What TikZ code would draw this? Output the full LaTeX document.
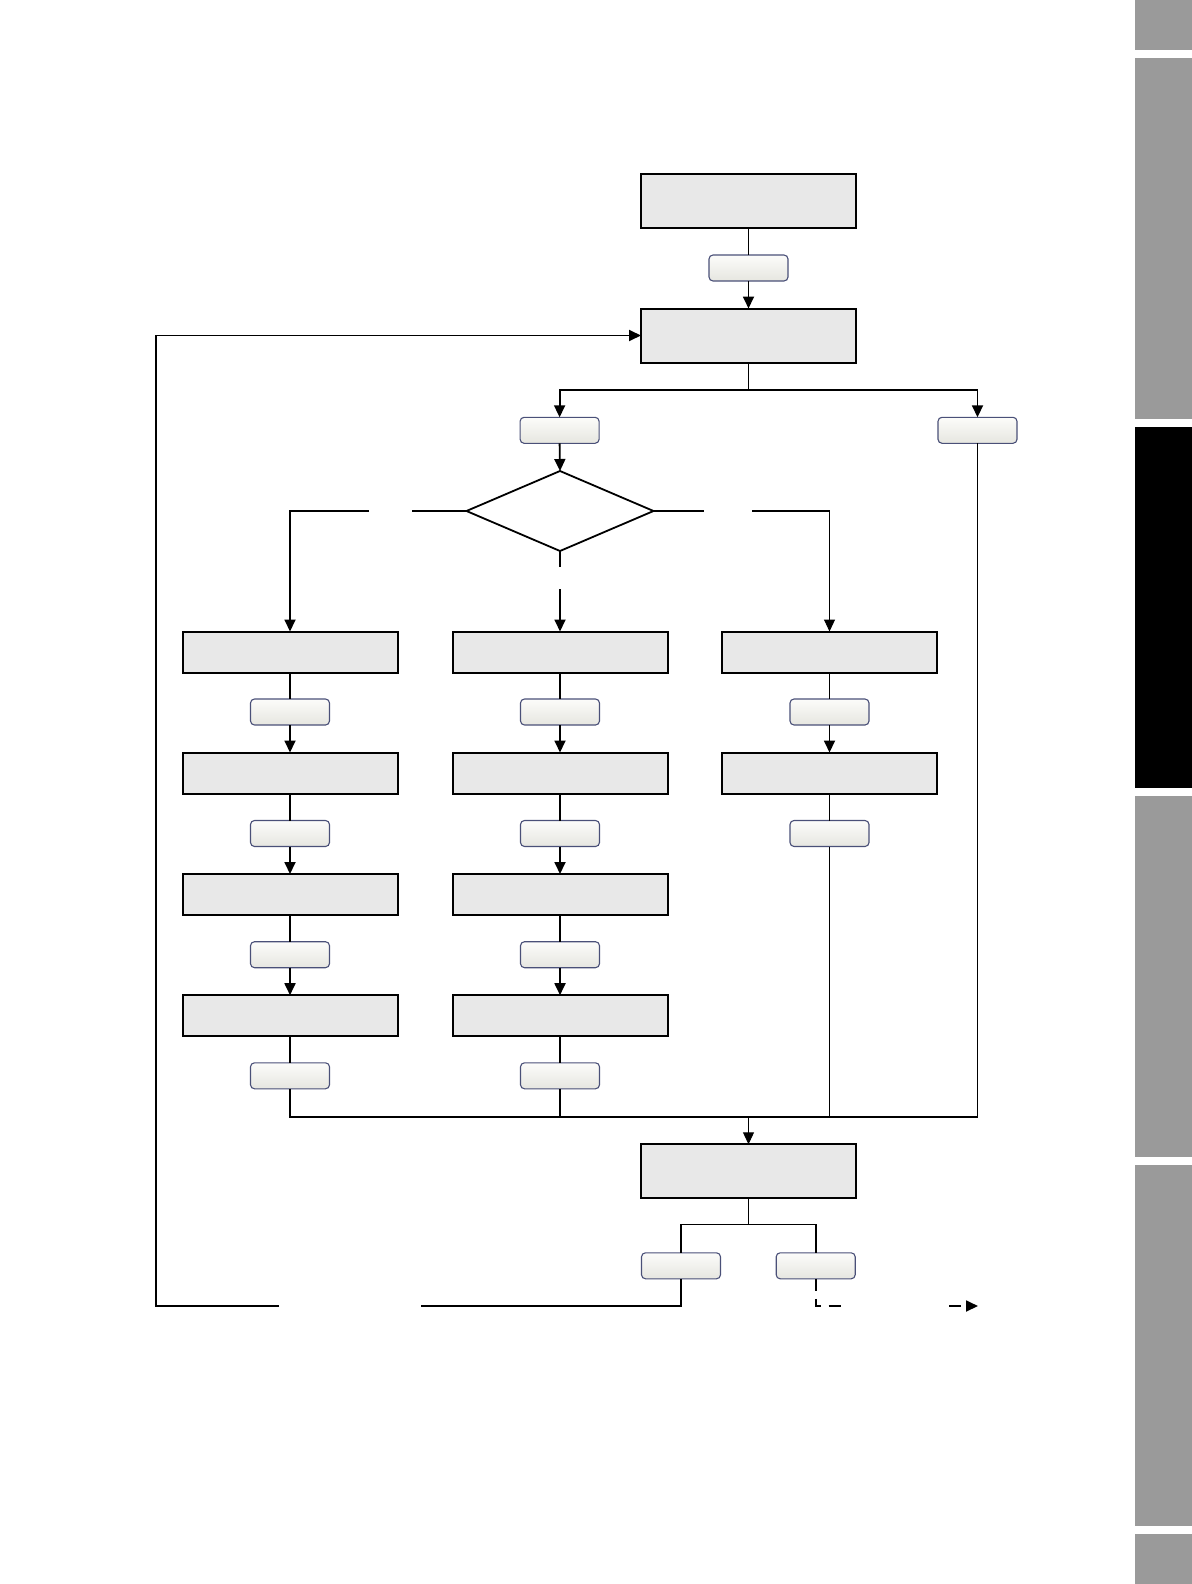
\documentclass[tikz,border=0pt]{standalone}
\usetikzlibrary{arrows.meta,shapes.geometric}
\definecolor{boxgray}{HTML}{E8E8E8}
\definecolor{tabgray}{HTML}{9A9A9A}
\definecolor{btnedge}{HTML}{4A5078}
\definecolor{btntop}{HTML}{FCFCFA}
\definecolor{btnbot}{HTML}{E6E6E0}
\begin{document}
\begin{tikzpicture}[x=0.5pt,y=-0.5pt,
  wbox/.style={draw=black,line width=1pt,fill=boxgray,minimum width=107.5pt,minimum height=27pt,inner sep=0pt,outer sep=0pt},
  cbox/.style={draw=black,line width=1pt,fill=boxgray,minimum width=107.5pt,minimum height=20.5pt,inner sep=0pt,outer sep=0pt},
  btn/.style={draw=btnedge,line width=0.55pt,rounded corners=2pt,top color=btntop,bottom color=btnbot,minimum width=39.5pt,minimum height=13pt,inner sep=0pt,outer sep=0pt},
  dia/.style={draw=black,line width=0.9pt,shape=diamond,minimum width=93.5pt,minimum height=40pt,inner sep=0pt,outer sep=0pt},
  conn/.style={line width=0.9pt,draw=black},
  thinconn/.style={line width=0.5pt,draw=black},
  tip/.style={-{Triangle[length=6pt,width=5.5pt]}},
  dashconn/.style={line width=0.9pt,draw=black,dash pattern=on 6pt off 4pt}]
\useasboundingbox (0,0) rectangle (1192,1584);
% side tabs
\fill[tabgray] (1135,0) rectangle (1192,50);
\fill[tabgray] (1135,58) rectangle (1192,419);
\fill[black] (1135,427) rectangle (1192,788);
\fill[tabgray] (1135,796) rectangle (1192,1157);
\fill[tabgray] (1135,1165) rectangle (1192,1526);
\fill[tabgray] (1135,1534) rectangle (1192,1584);
% top
\node[wbox] (t1) at (748.5,201) {};
\node[btn] (b0) at (748.5,268) {};
\node[wbox] (t2) at (748.5,335.5) {};
\coordinate (split) at (748.5,390);
\node[btn] (bm) at (559.6,430.3) {};
\node[btn] (br) at (977.5,430.3) {};
\node[dia] (d) at (560,511) {};
\coordinate (dl1) at (412,511);
\coordinate (dl2) at (369,511);
\coordinate (dr1) at (704,511);
\coordinate (dr2) at (752,511);
\coordinate (rc1) at (829.5,511);
\coordinate (dm1) at (560,567);
\coordinate (dm2) at (560,589);
% columns
\foreach \c/\x in {l/290,m/560}{
  \node[cbox] (\c1) at (\x,652) {};
  \node[btn] (\c b1) at (\x,712) {};
  \node[cbox] (\c2) at (\x,773) {};
  \node[btn] (\c b2) at (\x,833.5) {};
  \node[cbox] (\c3) at (\x,894.5) {};
  \node[btn] (\c b3) at (\x,954.7) {};
  \node[cbox] (\c4) at (\x,1015.7) {};
  \node[btn] (\c b4) at (\x,1075.8) {};
}
\node[cbox] (r1) at (829.5,652) {};
\node[btn] (rb1) at (829.5,712) {};
\node[cbox] (r2) at (829.5,773) {};
\node[btn] (rb2) at (829.5,833.5) {};
% bottom
\coordinate (jn) at (748.5,1117);
\node[wbox] (bb) at (748.5,1171.3) {};
\coordinate (bsplit) at (748.5,1224.5);
\node[btn] (bl) at (681,1265.8) {};
\node[btn] (brr) at (815.7,1265.8) {};
\coordinate (ret1) at (421,1306);
\coordinate (ret2) at (279,1306);
\coordinate (rc) at (155.6,1306);
\coordinate (dsh1) at (843,1306);
\coordinate (dsh2) at (949,1306);
\coordinate (dend) at (978,1306);
% connectors top
\draw[conn] (t1.south) -- (b0.north);
\draw[conn,tip] (b0.south) -- (t2.north);
\draw[conn] (t2.south) -- (split);
\draw[conn,tip] (split) -| (bm.north);
\draw[conn,tip] (split) -| (br.north);
\draw[conn,tip] (bm.south) -- (d.north);
\draw[conn] (d.west) -- (dl1);
\draw[conn,tip] (dl2) -| (l1.north);
\draw[conn] (d.east) -- (dr1);
\draw[conn] (dr2) -- (rc1);
\draw[thinconn,tip] (rc1) -- (r1.north);
\draw[conn] (d.south) -- (dm1);
\draw[conn,tip] (dm2) -- (m1.north);
% column connectors
\foreach \c in {l,m}{
  \draw[conn] (\c1.south) -- (\c b1.north);
  \draw[conn,tip] (\c b1.south) -- (\c2.north);
  \draw[conn] (\c2.south) -- (\c b2.north);
  \draw[conn,tip] (\c b2.south) -- (\c3.north);
  \draw[conn] (\c3.south) -- (\c b3.north);
  \draw[conn,tip] (\c b3.south) -- (\c4.north);
  \draw[conn] (\c4.south) -- (\c b4.north);
}
\draw[conn] (r1.south) -- (rb1.north);
\draw[conn,tip] (rb1.south) -- (r2.north);
\draw[conn] (r2.south) -- (rb2.north);
% join
\draw[conn] (lb4.south) -- (lb4.south |- jn) -- (br.south |- jn) -- (br.south);
\draw[conn] (mb4.south) -- (mb4.south |- jn);
\draw[thinconn] (rb2.south) -- (rb2.south |- jn);
\draw[thinconn,tip] (jn) -- (bb.north);
% bottom
\draw[conn] (bb.south) -- (bsplit);
\draw[conn] (bsplit) -| (bl.north);
\draw[conn] (bsplit) -| (brr.north);
\draw[conn] (bl.south) |- (ret1);
\draw[conn,tip] (ret2) -- (rc) |- (t2.west);
\draw[dashconn] (brr.south) |- (dsh1);
\draw[dashconn,tip] (dsh2) -- (dend);
\end{tikzpicture}
\end{document}
